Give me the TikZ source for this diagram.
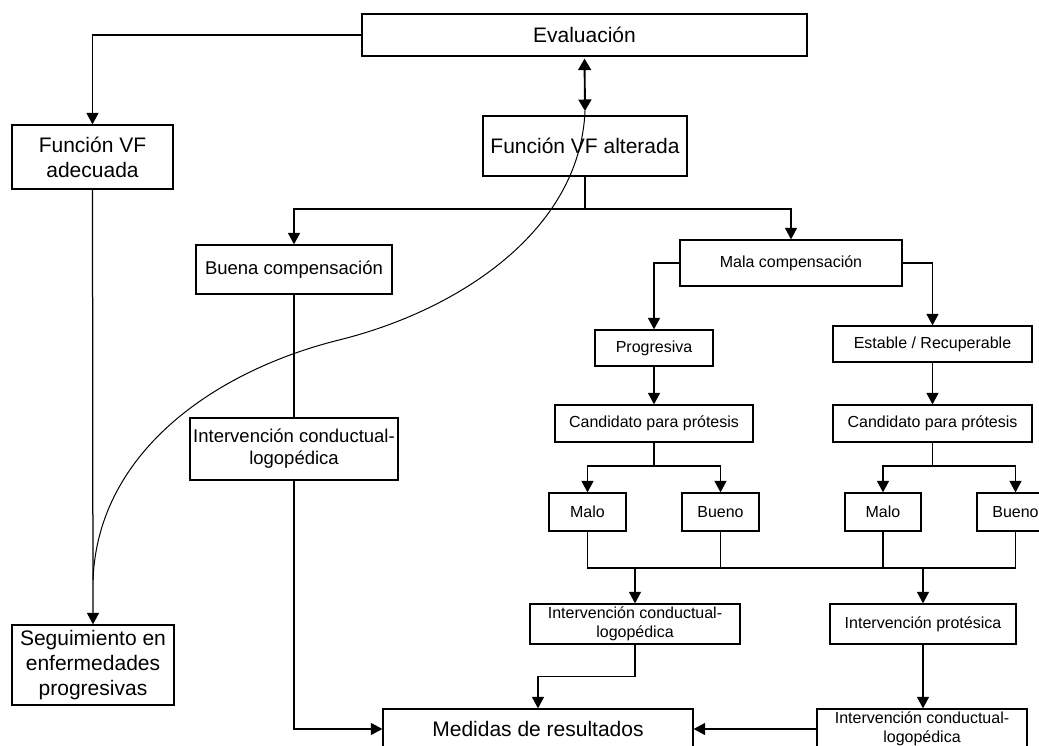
\documentclass[tikz,border=0pt]{standalone}
\usepackage{fontspec}
\setmainfont{Liberation Sans}
\usetikzlibrary{arrows.meta}
\begin{document}
\begin{tikzpicture}[x=1pt,y=-1pt,
  box/.style={draw, line width=1.25pt, inner sep=0pt, align=center},
  fA/.style={font=\fontsize{21}{25}\selectfont},
  fB/.style={font=\fontsize{18.5}{22}\selectfont},
  fC/.style={font=\fontsize{16}{19}\selectfont},
  ln/.style={line width=1.25pt},
  arr/.style={line width=1.25pt, -{Triangle[length=11.5pt,width=12pt]}},
  arrtwo/.style={line width=1.9pt, shorten <=2pt, {Triangle[length=11.5pt,width=13pt]}-{Triangle[length=11.5pt,width=13pt]}},
  curv/.style={line width=1pt}]
\useasboundingbox (0,0) rectangle (1039,746);
% nodes
\node[box,fA,minimum width=445pt,minimum height=42pt] (eval) at (584.5,35) {Evaluación};
\node[box,fA,minimum width=161pt,minimum height=64pt] (fade) at (92.5,157) {Función VF\\adecuada};
\node[box,fA,minimum width=204pt,minimum height=60pt] (falt) at (585,146) {Función VF alterada};
\node[box,fB,minimum width=196pt,minimum height=49pt] (buena) at (294,269.5) {Buena compensación};
\node[box,fB,minimum width=208pt,minimum height=62pt] (intm) at (294,449) {Intervención conductual-\\logopédica};
\node[box,fA,minimum width=162pt,minimum height=80pt] (seg) at (93,665) {Seguimiento en\\enfermedades\\progresivas};
\node[box,fC,minimum width=222pt,minimum height=46pt] (mala) at (791,263) {Mala compensación};
\node[box,fC,minimum width=118pt,minimum height=36pt] (prog) at (654,348) {Progresiva};
\node[box,fC,minimum width=199pt,minimum height=36pt] (est) at (932.5,344) {Estable / Recuperable};
\node[box,fC,minimum width=198pt,minimum height=37pt] (candL) at (654,423.5) {Candidato para prótesis};
\node[box,fC,minimum width=199pt,minimum height=37pt] (candR) at (932.5,423.5) {Candidato para prótesis};
\node[box,fC,minimum width=77pt,minimum height=38pt] (maloL) at (587.5,512) {Malo};
\node[box,fC,minimum width=77pt,minimum height=38pt] (bueL) at (720.5,512) {Bueno};
\node[box,fC,minimum width=76pt,minimum height=38pt] (maloR) at (883,512) {Malo};
\node[box,fC,minimum width=77pt,minimum height=38pt] (bueR) at (1015.5,512) {Bueno};
\node[box,fC,minimum width=210pt,minimum height=40pt] (intL) at (635,624) {Intervención conductual-\\logopédica};
\node[box,fC,minimum width=186pt,minimum height=40pt] (intP) at (923,624) {Intervención protésica};
\node[box,fC,minimum width=210pt,minimum height=40pt] (intR) at (922,729) {Intervención conductual-\\logopédica};
\node[box,fA,minimum width=310pt,minimum height=40pt] (med) at (538,729) {Medidas de resultados};
% helper coordinates
\coordinate (split) at (585,209);
\coordinate (cl) at (654,466);
\coordinate (cr) at (932.5,466);
\coordinate (jy) at (0,568);
\coordinate (c0) at (585,111);
\coordinate (cm) at (339,340);
\coordinate (c2) at (93,580);
% connectors
\draw[arr] (eval.west) -| (fade.north);
\draw[arrtwo] (eval.south) -- (c0);
\draw[arr] (fade.south) -- (seg.north);
\draw[ln] (falt.south) -- (split);
\draw[arr] (split) -| (buena.north);
\draw[arr] (split) -| (mala.north);
\draw[ln] (buena.south) -- (intm.north);
\draw[arr] (intm.south) |- (med.west);
\draw[arr] (mala.west) -| (prog.north);
\draw[arr] (mala.east) -| (est.north);
\draw[arr] (prog.south) -- (candL.north);
\draw[arr] (est.south) -- (candR.north);
\draw[ln] (candL.south) -- (cl);
\draw[arr] (cl) -| (maloL.north);
\draw[arr] (cl) -| (bueL.north);
\draw[ln] (candR.south) -- (cr);
\draw[arr] (cr) -| (maloR.north);
\draw[arr] (cr) -| (bueR.north);
\draw[ln] (maloL.south) -- (maloL.south |- jy) -- (bueR.south |- jy) -- (bueR.south);
\draw[ln] (bueL.south) -- (bueL.south |- jy);
\draw[ln] (maloR.south) -- (maloR.south |- jy);
\draw[arr] (intL.north |- jy) -- (intL.north);
\draw[arr] (intP.north |- jy) -- (intP.north);
\draw[arr] (intL.south) -- ++(0,32) -| (med.north);
\draw[arr] (intP.south) -- (intP.south |- intR.north);
\draw[arr] (intR.west) -- (med.east);
% curve
\draw[curv] (c0) .. controls (580,230) and (460,310) .. (cm) .. controls (218,370) and (98,450) .. (c2);
\end{tikzpicture}
\end{document}
